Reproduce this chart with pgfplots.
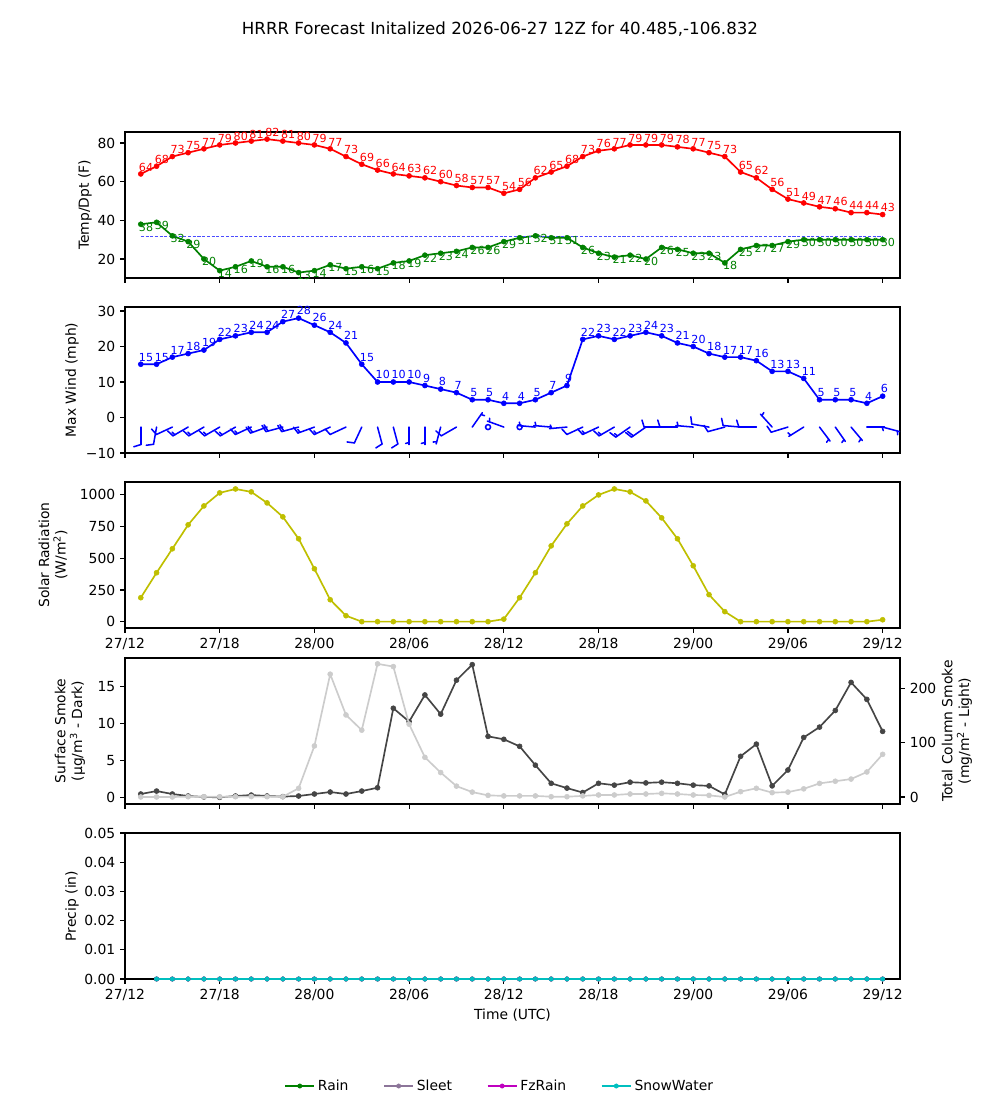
\documentclass[border=0pt]{standalone}
\usepackage{pgfplots}
\pgfplotsset{compat=1.18}
\usepackage{pgfplotstable}
\usepackage{fontspec}
\setmainfont{DejaVu Sans}

\definecolor{tdred}{rgb}{1,0,0}
\definecolor{tdgreen}{rgb}{0,0.5,0}
\definecolor{frz}{rgb}{0.3,0.3,1}
\definecolor{solar}{rgb}{0.75,0.75,0}
\definecolor{smokedark}{rgb}{0.27,0.27,0.27}
\definecolor{smokelight}{rgb}{0.8,0.8,0.8}
\definecolor{sleet}{rgb}{0.55,0.46,0.6}
\definecolor{fzrain}{rgb}{0.75,0,0.75}
\definecolor{snowwater}{rgb}{0,0.75,0.75}

% hourly forecast, h = hours after 27/12Z
% T, Td (F), W = max wind (mph), S = solar (W/m2),
% dark = surface smoke (ug/m3), light = column smoke (mg/m2), P = precip (in)
\pgfplotstableread{
h  T  Td W  S     dark  light P
1  64 38 15 189   0.5   0     nan
2  68 39 15 386   0.9   0     0
3  73 32 17 575   0.5   0     0
4  75 29 18 764   0.23  0.5   0
5  77 20 19 913   0.1   0.5   0
6  79 14 22 1016  0.05  0.5   0
7  80 16 23 1047  0.23  0.5   0
8  81 19 24 1024  0.36  0.8   0
9  82 16 24 937   0.23  0.5   0
10 81 16 27 827   0.15  0.5   0
11 80 13 28 654   0.23  16    0
12 79 14 26 417   0.5   94    0
13 77 17 24 173   0.77  226   0
14 73 15 21 47    0.5   151   0
15 69 16 15 0     0.9   123   0
16 66 15 10 0     1.35  245   0
17 64 18 10 0     12.1  240   0
18 63 19 10 0     10.3  134   0
19 62 22 9  0     13.9  73    0
20 60 23 8  0     11.3  45    0
21 58 24 7  0     15.9  20    0
22 57 26 5  0     18.0  9     0
23 57 26 5  0     8.3   3     0
24 54 29 4  20    7.9   2     0
25 56 31 4  189   6.95  2     0
26 62 32 5  386   4.4   2     0
27 65 31 7  598   1.95  0.5   0
28 68 31 9  772   1.3   0.5   0
29 73 26 22 913   0.7   2     0
30 76 23 23 1000  1.95  3.7   0
31 77 21 22 1047  1.7   3.7   0
32 79 22 23 1024  2.1   5.5   0
33 79 20 24 953   2.0   5.5   0
34 79 26 23 819   2.1   6.7   0
35 78 25 21 654   1.95  5.5   0
36 77 23 20 441   1.7   3.7   0
37 75 23 18 213   1.6   3     0
38 73 18 17 79    0.45  0     0
39 65 25 17 0     5.6   9.8   0
40 62 27 16 0     7.25  16    0
41 56 27 13 0     1.6   8     0
42 51 29 13 0     3.75  9     0
43 49 30 11 0     8.15  15    0
44 47 30 5  0     9.55  25    0
45 46 30 5  0     11.8  29    0
46 44 30 5  0     15.6  33    0
47 44 30 4  0     13.3  46    0
48 43 30 6  15    8.97  78.5  0
}\fcst

% freezing level (F)
\pgfplotstableread{
h  F
1  32
48 32
}\frzline

% 10 m wind: direction it blows from (deg) and speed (kt, to nearest 5)
\pgfplotstableread{
h  dir kt
1  180 10
2  190 10
3  245 10
4  240 15
5  240 15
6  240 15
7  240 15
8  245 15
9  250 20
10 255 20
11 255 20
12 250 15
13 245 15
14 245 10
15 205 10
16 165 10
17 165 10
18 180 5
19 180 5
20 195 5
21 240 10
22 35  5
23 0   0
24 290 5
25 0   0
26 275 5
27 275 5
28 265 5
29 245 10
30 245 15
31 240 15
32 235 15
33 235 20
34 270 10
35 270 10
36 275 5
37 280 10
38 255 10
39 275 10
40 270 10
41 318 5
42 253 10
43 238 5
44 143 5
45 145 5
46 140 5
47 90  5
48 105 5
}\wind

\pgfplotsset{
  panel/.style={
    scale only axis, width=558pt, height=105.12pt, anchor=south west,
    xmin=0, xmax=49.1,
    xtick={0,6,...,48},
    xticklabels={27/12,27/18,28/00,28/06,28/12,28/18,29/00,29/06,29/12},
    tick align=outside, xtick pos=bottom, ytick pos=left,
    major tick length=3.5pt,
    every tick/.style={black, line width=0.8pt},
    axis line style={line width=0.8pt},
    tick label style={font=\fontsize{10}{12}\selectfont},
    label style={font=\fontsize{10}{12}\selectfont},
    /pgf/number format/assume math mode=true,
    /pgf/number format/1000 sep={},
    scaled y ticks=false,
    every axis y label/.style={rotate=90, anchor=center, align=center},
    every axis x label/.style={anchor=center},
  },
  tline/.style={line width=1.2pt, mark=*, mark size=1.8pt,
    mark options={line width=0.4pt}},
  pline/.style={line width=1.2pt, mark=*, mark size=1.6pt,
    mark options={line width=0.3pt}},
  lab/.style={point meta=y, nodes near coords,
    nodes near coords style={font=\fontsize{8}{9}\selectfont, inner sep=0pt, #1}},
  barb/.style={blue, line width=1.1pt, line cap=round, -},
}

\begin{document}
\begin{tikzpicture}
\useasboundingbox (0,0) rectangle (720pt,792pt);
\node[font=\fontsize{12}{14}\selectfont] at (360pt,771.1pt)
  {HRRR Forecast Initalized 2026-06-27 12Z for 40.485,-106.832};

% temperature and dewpoint
\begin{axis}[panel, at={(90pt,591.84pt)}, xticklabels={},
  ymin=10.2, ymax=85.7, ytick={20,40,60,80},
  ylabel={Temp/Dpt (F)},
  ylabel style={at={([xshift=-28.8pt]axis description cs:0,0.5)}}]
\addplot[tline, tdred, lab={tdred, anchor=south west, xshift=-1.5pt, yshift=1.8pt}]
  table[x=h, y=T] {\fcst};
\addplot[tline, tdgreen, lab={tdgreen, anchor=north west, xshift=-1.5pt, yshift=1.2pt}]
  table[x=h, y=Td] {\fcst};
% freezing line
\addplot[draw=frz, line width=0.45pt, dash pattern=on 2.2pt off 1.2pt, mark=none]
  table[x=h, y=F] {\frzline};
\end{axis}

% max wind and wind barbs
\begin{axis}[panel, at={(90pt,465.84pt)}, xticklabels={},
  ymin=-10, ymax=31.13, ytick={-10,0,10,20,30},
  yticklabels={−10,0,10,20,30},
  ylabel={Max Wind (mph)},
  ylabel style={at={([xshift=-38.2pt]axis description cs:0,0.5)}}]
\addplot[tline, blue, lab={blue, anchor=south west, xshift=-1.5pt, yshift=2pt}]
  table[x=h, y=W] {\fcst};
% shafts
\addplot[barb, quiver={u={1.109*sin(\thisrow{dir})}, v={4.93*cos(\thisrow{dir})}}]
  table[x=h, y expr={\thisrow{kt}>0 ? -2.7 : nan}] {\wind};
% first full barb
\addplot[barb, quiver={u={1.109*(0.4*cos(\thisrow{dir})+0.125*sin(\thisrow{dir}))},
                       v={4.93*(-0.4*sin(\thisrow{dir})+0.125*cos(\thisrow{dir}))}}]
  table[x expr={\thisrow{h}+1.109*sin(\thisrow{dir})},
        y expr={\thisrow{kt}>=10 ? -2.7+4.93*cos(\thisrow{dir}) : nan}] {\wind};
% second full barb
\addplot[barb, quiver={u={1.109*(0.4*cos(\thisrow{dir})+0.125*sin(\thisrow{dir}))},
                       v={4.93*(-0.4*sin(\thisrow{dir})+0.125*cos(\thisrow{dir}))}}]
  table[x expr={\thisrow{h}+0.875*1.109*sin(\thisrow{dir})},
        y expr={\thisrow{kt}>=20 ? -2.7+0.875*4.93*cos(\thisrow{dir}) : nan}] {\wind};
% half barb
\addplot[barb, quiver={u={1.109*(0.2*cos(\thisrow{dir})+0.0625*sin(\thisrow{dir}))},
                       v={4.93*(-0.2*sin(\thisrow{dir})+0.0625*cos(\thisrow{dir}))}}]
  table[x expr={\thisrow{h}+0.875*1.109*sin(\thisrow{dir})},
        y expr={(\thisrow{kt}==5 || \thisrow{kt}==15) ? -2.7+0.875*4.93*cos(\thisrow{dir}) : nan}] {\wind};
% calm
\addplot[only marks, mark=o, mark size=1.8pt, blue, line width=1.1pt]
  table[x=h, y expr={\thisrow{kt}==0 ? -2.7 : nan}] {\wind};
\end{axis}

% solar radiation
\begin{axis}[panel, at={(90pt,339.84pt)},
  ymin=-50, ymax=1102, ytick={0,250,500,750,1000},
  ylabel={Solar Radiation\\(W/m\textsuperscript{2})},
  ylabel style={at={([xshift=-51.8pt]axis description cs:0,0.5)}}]
\addplot[tline, solar] table[x=h, y=S] {\fcst};
\end{axis}

% smoke: surface (left axis)
\begin{axis}[panel, at={(90pt,213.12pt)}, xticklabels={},
  ymin=-0.85, ymax=18.9, ytick={0,5,10,15},
  ylabel={Surface Smoke\\(μg/m\textsuperscript{3} - Dark)},
  ylabel style={at={([xshift=-39.6pt]axis description cs:0,0.5)}}]
\addplot[tline, smokedark] table[x=h, y=dark] {\fcst};
\end{axis}
% smoke: total column (right axis)
\begin{axis}[panel, at={(90pt,213.12pt)},
  axis x line=none, axis y line*=right, ytick pos=right,
  ymin=-12.9, ymax=255.8, ytick={0,100,200},
  ylabel={Total Column Smoke\\(mg/m\textsuperscript{2} - Light)},
  ylabel style={at={([xshift=41pt]axis description cs:1,0.5)}}]
\addplot[tline, smokelight] table[x=h, y=light] {\fcst};
\end{axis}

% precipitation
\begin{axis}[panel, at={(90pt,87.12pt)},
  ymin=0, ymax=0.05, ytick={0,0.01,0.02,0.03,0.04,0.05},
  yticklabels={0.00,0.01,0.02,0.03,0.04,0.05},
  ylabel={Precip (in)},
  ylabel style={at={([xshift=-38.2pt]axis description cs:0,0.5)}},
  xlabel={Time (UTC)},
  xlabel style={at={([yshift=-25.9pt]axis description cs:0.5,0)}},
  legend style={at={(axis description cs:0.484,-0.733)}, anchor=center,
    draw=none, fill=none, legend columns=4, font=\fontsize{10}{12}\selectfont,
    /tikz/every even column/.append style={column sep=23pt}},
  legend image code/.code={\draw[mark repeat=2, mark phase=2, #1]
    plot coordinates {(0pt,0pt) (10.5pt,0pt) (21pt,0pt)};}]
\addplot[pline, tdgreen] table[x=h, y=P] {\fcst};
\addplot[pline, sleet] table[x=h, y=P] {\fcst};
\addplot[pline, fzrain] table[x=h, y=P] {\fcst};
\addplot[pline, snowwater] table[x=h, y=P] {\fcst};
\legend{Rain, Sleet, FzRain, SnowWater}
\end{axis}
\end{tikzpicture}
\end{document}
